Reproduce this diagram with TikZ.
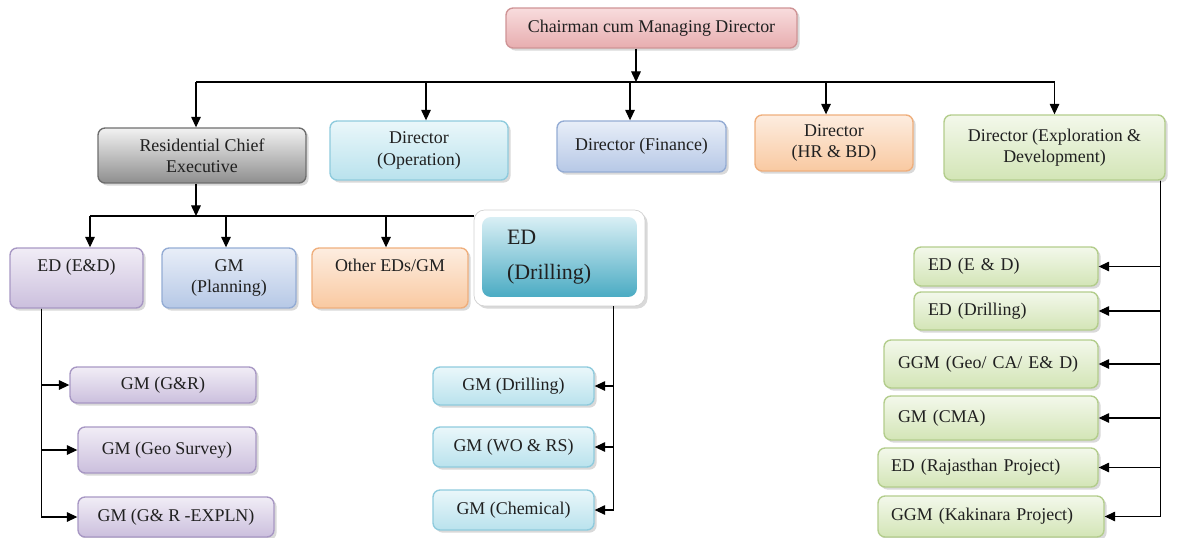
\documentclass[tikz,border=0pt]{standalone}
\usepackage{fontspec}
\setmainfont{Liberation Serif}
\usetikzlibrary{shadows}
\usetikzlibrary{arrows.meta}

\definecolor{pinktop}{HTML}{F8DCDD}
\definecolor{pinkbot}{HTML}{E7ADAF}
\definecolor{pinkline}{HTML}{CF9496}
\definecolor{graytop}{HTML}{F2F2F2}
\definecolor{graybot}{HTML}{8E8E8E}
\definecolor{grayline}{HTML}{6E6E6E}
\definecolor{cyantop}{HTML}{EAF7FA}
\definecolor{cyanbot}{HTML}{B9E2ED}
\definecolor{cyanline}{HTML}{8FCBDD}
\definecolor{bluetop}{HTML}{E8EEF8}
\definecolor{bluebot}{HTML}{B6C8E6}
\definecolor{blueline}{HTML}{94ACD4}
\definecolor{orangetop}{HTML}{FDEDE0}
\definecolor{orangebot}{HTML}{F9C9A1}
\definecolor{orangeline}{HTML}{EFAF7D}
\definecolor{greentop}{HTML}{F3F8EB}
\definecolor{greenbot}{HTML}{D3E5B6}
\definecolor{greenline}{HTML}{B3CD8C}
\definecolor{purpletop}{HTML}{F1EDF6}
\definecolor{purplebot}{HTML}{CBBFDD}
\definecolor{purpleline}{HTML}{A898C4}
\definecolor{tealtop}{HTML}{D9EFF5}
\definecolor{tealbot}{HTML}{4AABC3}
\definecolor{inktext}{HTML}{202020}

\begin{document}
\begin{tikzpicture}[x=0.02cm, y=-0.02cm, font=\fontsize{10.2}{12}\selectfont]
    \tikzstyle{orgbox}=[draw, rounded corners=4pt, align=center, inner sep=2pt, line width=0.8pt, text=inktext,
      drop shadow={opacity=0.3, shadow xshift=1.5pt, shadow yshift=-1.5pt}]
    \tikzstyle{pinkbox}=[orgbox, draw=pinkline, top color=pinktop, bottom color=pinkbot]
    \tikzstyle{graybox}=[orgbox, draw=grayline, top color=graytop, bottom color=graybot]
    \tikzstyle{cyanbox}=[orgbox, draw=cyanline, top color=cyantop, bottom color=cyanbot]
    \tikzstyle{bluebox}=[orgbox, draw=blueline, top color=bluetop, bottom color=bluebot]
    \tikzstyle{orangebox}=[orgbox, draw=orangeline, top color=orangetop, bottom color=orangebot]
    \tikzstyle{greenbox}=[orgbox, draw=greenline, top color=greentop, bottom color=greenbot, align=left]
    \tikzstyle{purplebox}=[orgbox, draw=purpleline, top color=purpletop, bottom color=purplebot]
    \tikzstyle{arr}=[-{Triangle[width=5.5pt,length=6pt]}, line width=0.6pt]
    \useasboundingbox (0,0) rectangle (1195,537);

    % top level
    \node[pinkbox, minimum width=5.82cm, minimum height=0.8cm] (cmd) at (651.5,28) {Chairman cum Managing Director};
    \node[graybox, minimum width=4.16cm, minimum height=1.1cm] (rce) at (202,155.5) {Residential Chief\\Executive};
    \node[cyanbox, minimum width=3.56cm, minimum height=1.18cm] (op) at (419,150.5) {Director\\(Operation)};
    \node[bluebox, minimum width=3.38cm, minimum height=1.02cm] (fin) at (641.5,146.5) {Director (Finance)};
    \node[orangebox, minimum width=3.16cm, minimum height=1.12cm] (hr) at (834,143) {Director\\(HR \& BD)};
    \node[greenbox, align=center, minimum width=4.42cm, minimum height=1.3cm] (exd) at (1054.5,147.5) {Director (Exploration \&\\Development)};

    % under the residential chief executive
    \node[purplebox, minimum width=2.66cm, minimum height=1.2cm, text height=0.3cm, text depth=0.55cm] (eded) at (76.5,278) {ED (E\&D)};
    \node[bluebox, minimum width=2.68cm, minimum height=1.2cm] (gmpl) at (229,278) {GM\\(Planning)};
    \node[orangebox, minimum width=3.12cm, minimum height=1.2cm, text height=0.3cm, text depth=0.55cm] (other) at (390,278) {Other EDs/GM};
    \node[draw=black!18, fill=white, rounded corners=6pt, minimum width=3.42cm, minimum height=1.92cm,
      drop shadow={opacity=0.3, shadow xshift=1.5pt, shadow yshift=-1.5pt}] (eddo) at (559.5,258) {};
    \node[top color=tealtop, bottom color=tealbot, rounded corners=5pt, minimum width=3.1cm, minimum height=1.6cm,
      align=left, text width=2.1cm, inner xsep=0.5cm, text=inktext, font=\fontsize{12.5}{20}\selectfont] (eddi) at (559.5,257) {ED\\(Drilling)};

    \node[purplebox, minimum width=3.72cm, minimum height=0.72cm] (gmgr) at (163,385) {GM (G\&R)};
    \node[purplebox, minimum width=3.56cm, minimum height=0.92cm] (gmgeo) at (167,450) {GM (Geo Survey)};
    \node[purplebox, minimum width=3.92cm, minimum height=0.8cm] (gmexp) at (176,517) {GM (G\& R -EXPLN)};
    \node[cyanbox, minimum width=3.22cm, minimum height=0.76cm] (gmdr) at (513.5,386) {GM (Drilling)};
    \node[cyanbox, minimum width=3.22cm, minimum height=0.8cm] (gmwo) at (513.5,447) {GM (WO \& RS)};
    \node[cyanbox, minimum width=3.22cm, minimum height=0.8cm] (gmch) at (513.5,510) {GM (Chemical)};

    % under exploration and development
    \node[greenbox, minimum height=0.78cm, text width=3.12cm, inner xsep=0.28cm] (ede) at (1006,266.5) {ED (E \& D)};
    \node[greenbox, minimum height=0.76cm, text width=3.12cm, inner xsep=0.28cm] (eddr) at (1006,311) {ED (Drilling)};
    \node[greenbox, minimum height=0.96cm, text width=3.72cm, inner xsep=0.28cm] (ggmgeo) at (991,364) {GGM (Geo/ CA/ E\& D)};
    \node[greenbox, minimum height=0.88cm, text width=3.72cm, inner xsep=0.28cm] (gmcma) at (991,418) {GM (CMA)};
    \node[greenbox, minimum height=0.78cm, text width=3.88cm, inner xsep=0.26cm] (edraj) at (988,467.5) {ED (Rajasthan Project)};
    \node[greenbox, minimum height=0.82cm, text width=4.0cm, inner xsep=0.26cm] (ggmkak) at (991,516.5) {GGM (Kakinara Project)};

    \coordinate (bustop) at (0,82);
    \coordinate (busrce) at (0,216);

    % connectors
    \draw[arr] ([xshift=-0.31cm]cmd.south) -- ([xshift=-0.31cm]cmd.south |- bustop);
    \draw[line width=0.6pt] ([xshift=-0.12cm]rce.north |- bustop) -- (exd.north |- bustop);
    \foreach \n/\s in {rce/-0.12, op/0.14, fin/-0.23, hr/-0.16, exd/0}
      \draw[arr] ([xshift=\s cm]\n.north |- bustop) -- ([xshift=\s cm]\n.north);

    \draw[arr] ([xshift=-0.12cm]rce.south) -- ([xshift=-0.12cm]rce.south |- busrce);
    \draw[line width=0.6pt] ([xshift=0.27cm]eded.north |- busrce) -- (eddo.west |- busrce);
    \foreach \n/\s in {eded/0.27, gmpl/-0.06, other/-0.08}
      \draw[arr] ([xshift=\s cm]\n.north |- busrce) -- ([xshift=\s cm]\n.north);

    \foreach \n in {gmgr, gmgeo, gmexp}
      \draw[arr] ([xshift=0.64cm]eded.south west) |- (\n.west);
    \foreach \n in {gmdr, gmwo, gmch}
      \draw[arr] ([xshift=-0.64cm]eddo.south east) |- (\n.east);
    \foreach \n in {ede, eddr, ggmgeo, gmcma, edraj, ggmkak}
      \draw[arr] ([xshift=-0.1cm]exd.south east) |- (\n.east);
\end{tikzpicture}
\end{document}
